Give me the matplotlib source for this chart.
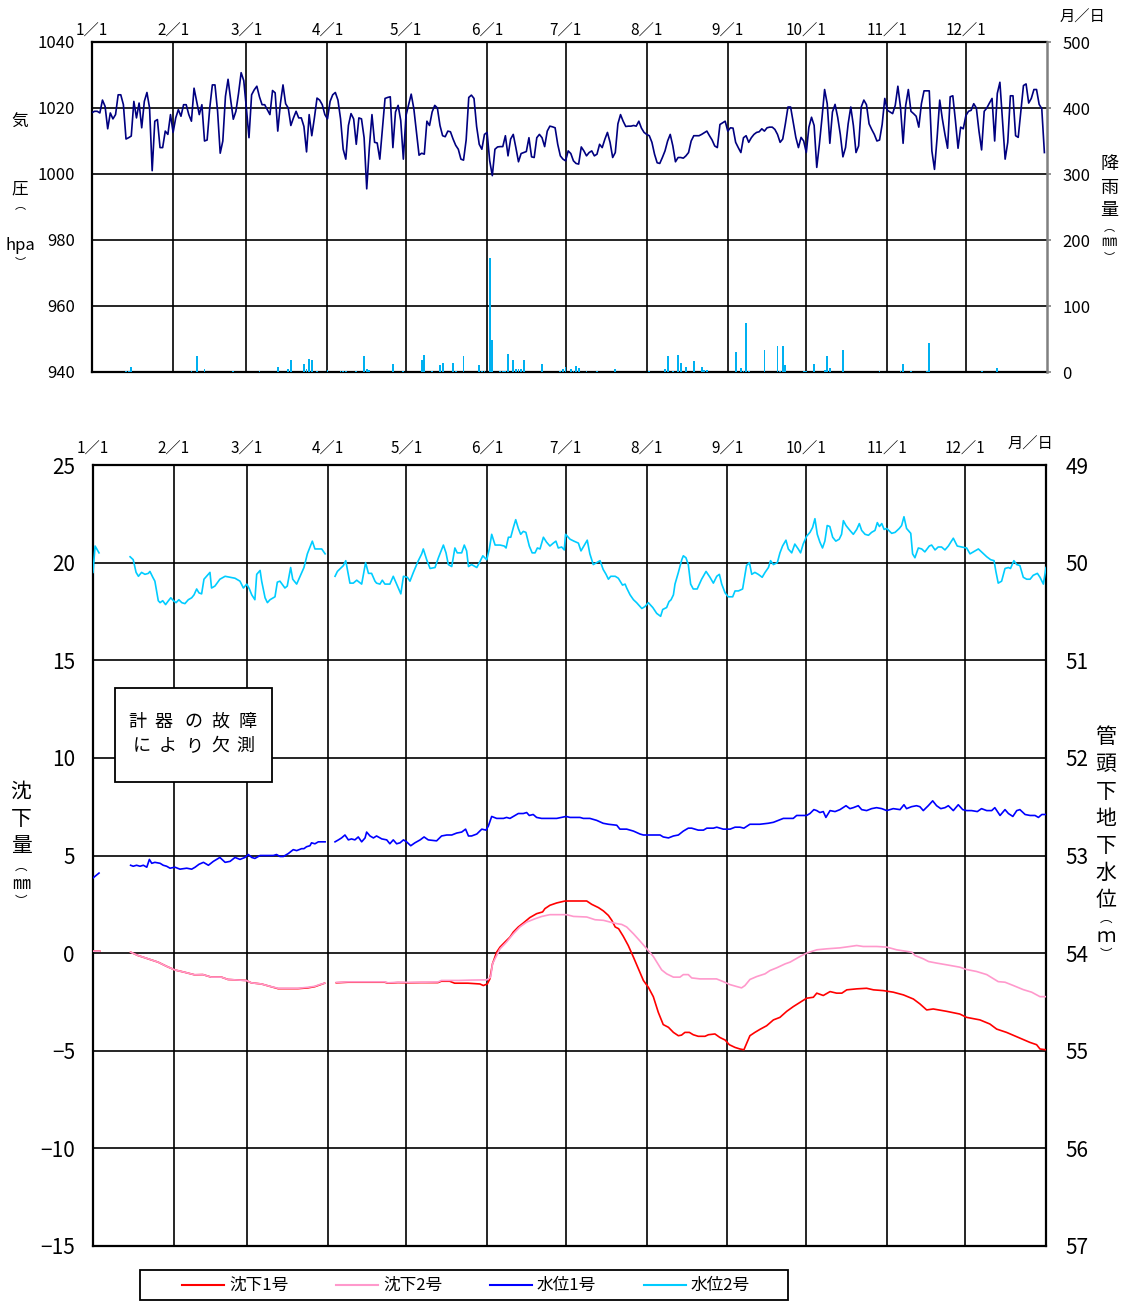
import matplotlib
matplotlib.use('Agg')
import matplotlib.pyplot as plt
from matplotlib.patches import Rectangle
import numpy as np

plt.rcParams['font.family'] = ['Noto Sans CJK JP', 'DejaVu Sans']

nan = np.nan

# Eixo x: dias do ano (1/1 = dia 0)
month_start = [0, 31, 59, 90, 120, 151, 181, 212, 243, 273, 304, 334]
month_labels = ['1／1', '2／1', '3／1', '4／1', '5／1', '6／1', '7／1', '8／1', '9／1', '10／1', '11／1', '12／1']

# Pressão atmosférica diária (hPa)
pressure_hpa = [
    1018.6, 1019.0, 1019.0, 1018.5, 1022.4, 1020.5, 1013.7, 1018.5, 1016.7, 1018.0,
    1024.0, 1024.0, 1021.0, 1010.6, 1011.0, 1011.5, 1022.0, 1017.0, 1021.5, 1014.0,
    1022.0, 1024.7, 1020.0, 1001.0, 1016.0, 1016.5, 1008.0, 1008.0, 1013.0, 1012.0,
    1018.0, 1012.6, 1017.0, 1019.5, 1017.5, 1021.0, 1021.0, 1018.0, 1016.0, 1026.0,
    1022.0, 1018.0, 1021.0, 1010.0, 1010.3, 1020.0, 1027.0, 1027.0, 1019.0, 1006.3,
    1010.0, 1023.5, 1028.7, 1022.5, 1016.6, 1019.0, 1024.4, 1030.7, 1028.3, 1020.0,
    1011.0, 1024.0, 1025.5, 1026.6, 1023.4, 1021.0, 1021.0, 1019.5, 1018.0, 1025.3,
    1024.6, 1013.0, 1021.3, 1027.0, 1021.3, 1020.0, 1014.7, 1017.0, 1019.0, 1017.0,
    1017.0, 1014.4, 1006.7, 1018.0, 1011.6, 1017.0, 1023.0, 1022.4, 1021.0, 1018.0,
    1016.7, 1022.0, 1024.0, 1024.7, 1022.4, 1016.7, 1007.5, 1004.5, 1014.7, 1018.3,
    1016.7, 1009.0, 1017.0, 1016.7, 1011.0, 995.5, 1008.0, 1018.0, 1009.6, 1009.4,
    1004.5, 1013.7, 1022.9, 1023.2, 1023.4, 1008.0, 1018.8, 1020.8, 1016.2, 1004.5,
    1017.7, 1021.0, 1024.2, 1019.8, 1012.6, 1005.7, 1006.3, 1006.0, 1016.0, 1014.7,
    1018.8, 1020.8, 1020.0, 1014.7, 1011.6, 1011.3, 1013.0, 1012.8, 1010.6, 1008.7,
    1007.5, 1004.5, 1004.2, 1010.3, 1023.2, 1023.9, 1022.9, 1014.4, 1009.0, 1007.5,
    1012.0, 1012.6, 1004.0, 999.5, 1007.5, 1008.2, 1008.3, 1008.3, 1011.6, 1005.5,
    1010.6, 1012.0, 1008.0, 1003.7, 1006.2, 1006.5, 1006.8, 1011.0, 1005.2, 1005.0,
    1011.0, 1012.0, 1011.0, 1008.3, 1013.0, 1014.5, 1014.3, 1014.0, 1009.0, 1005.5,
    1004.5, 1004.0, 1007.0, 1006.2, 1004.0, 1003.2, 1003.0, 1008.2, 1007.0, 1005.5,
    1006.5, 1007.0, 1005.5, 1006.0, 1009.0, 1008.0, 1010.5, 1012.6, 1009.6, 1005.0,
    1006.5, 1015.2, 1018.0, 1016.0, 1014.4, 1014.5, 1014.5, 1014.7, 1014.5, 1016.0,
    1013.9, 1012.6, 1012.0, 1011.6, 1009.6, 1006.0, 1003.4, 1003.2, 1005.0, 1007.0,
    1010.0, 1012.0, 1008.5, 1003.7, 1005.0, 1005.0, 1004.8, 1005.5, 1006.5, 1010.0,
    1011.6, 1011.6, 1011.6, 1012.0, 1012.5, 1013.0, 1011.6, 1010.3, 1008.5, 1008.0,
    1015.0, 1015.5, 1016.0, 1013.0, 1014.0, 1013.9, 1009.6, 1008.0, 1006.5, 1011.0,
    1011.6, 1009.6, 1011.0, 1012.0, 1012.6, 1012.8, 1013.7, 1013.0, 1014.0, 1014.2,
    1014.2, 1013.5, 1012.0, 1009.6, 1010.6, 1015.2, 1020.3, 1020.3, 1015.7, 1011.1,
    1008.0, 1011.1, 1010.0, 1006.5, 1014.2, 1017.2, 1014.7, 1002.0, 1009.0, 1017.0,
    1025.6, 1021.3, 1009.3, 1018.8, 1021.1, 1017.2, 1012.0, 1005.2, 1008.0, 1015.2,
    1020.3, 1014.7, 1006.5, 1008.5, 1020.3, 1022.4, 1021.0, 1015.2, 1013.5, 1012.0,
    1010.0, 1010.3, 1015.0, 1022.9, 1019.3, 1018.8, 1018.3, 1020.8, 1026.6, 1020.3,
    1009.3, 1020.8, 1025.6, 1019.0, 1018.3, 1017.5, 1014.2, 1021.3, 1025.2, 1025.2,
    1025.2, 1007.0, 1001.4, 1011.0, 1022.4, 1016.7, 1012.0, 1007.8, 1023.4, 1023.7,
    1016.2, 1007.8, 1014.2, 1013.7, 1017.7, 1019.0, 1019.3, 1021.3, 1020.0, 1013.0,
    1007.3, 1019.0, 1020.0, 1021.5, 1022.9, 1010.0, 1024.4, 1027.8, 1016.2, 1004.5,
    1009.6, 1023.7, 1023.7, 1011.6, 1011.1, 1018.8, 1026.8, 1027.3, 1021.5, 1022.9,
    1025.6, 1025.6, 1021.1, 1019.8, 1006.5,
]
pressure_day = list(range(len(pressure_hpa)))

# Precipitação diária (mm)
rain_day = [13, 14, 15, 38, 40, 43, 54, 64, 71, 75, 76, 81, 82, 83, 84, 86, 90, 95, 96, 97,
            101, 104, 105, 106, 115, 119, 126, 127, 130, 133, 134, 138, 139, 142, 148, 149, 150,
            152, 153, 156, 157, 158, 159, 161, 162, 163, 164, 165, 172, 179, 180, 181, 183, 184,
            185, 186, 189, 193, 200, 213, 219, 220, 222, 224, 225, 227, 230, 233, 234, 235, 246,
            248, 249, 250, 251, 257, 262, 263, 264, 265, 272, 273, 276, 280, 281, 282, 287, 301,
            309, 310, 313, 319, 320, 340, 346]
rain_mm = [2, 2, 7, 1, 25, 5, 1, 1, 7, 4, 18, 12, 4, 20, 18, 2, 3, 2, 2, 2,
           2, 25, 4, 3, 12, 2, 18, 26, 2, 10, 14, 14, 2, 24, 10, 2, 2,
           172, 48, 2, 2, 2, 27, 18, 5, 4, 5, 18, 12, 2, 4, 7, 4, 2,
           9, 6, 1, 1, 5, 1, 4, 24, 2, 26, 14, 8, 17, 8, 3, 3, 31,
           6, 2, 75, 2, 34, 39, 2, 39, 10, 2, 2, 12, 3, 24, 6, 34, 1,
           2, 12, 2, 2, 44, 2, 6]

# Recalque 1 e 2 (mm); nan = falha do instrumento
sub1_day = [0, 2.6, nan,
            14.4, 17.2, 21.1, 24.9, 28.1, 31.3, 35.1, 38.9, 42.1, 45.3, 49.2, 51.7, 54.3, 58.7,
            60.6, 64.5, 67.7, 70.9, 74.7, 78.5, 82.3, 84.9, 86.8, 88.7, nan,
            93.2, 97.7, 101.5, 106.6, 111.7, 113.0, 116.8, 120.6, 125.7, 132.1, 133.4, 136.6,
            138.5, 143.6, 148.2, 149.5, 151.0, 152.0, 153.0, 154.6, 155.9, 157.8, 159.7, 161.0,
            162.9, 164.8, 167.3, 169.9, 172.2, 173.1, 175.0, 177.6, 180.8, 185.2, 189.1, 191.0,
            193.6, 195.5, 197.4, 198.7, 200.0, 201.3, 203.1, 205.0, 207.0, 208.9, 210.8, 212.7,
            214.6, 216.5, 218.4, 220.4, 222.3, 224.2, 225.4, 226.7, 228.4, 229.9, 231.8, 234.4,
            235.7, 238.2, 240.1, 242.1, 243.7, 245.9, 247.8, 249.3, 251.6, 253.5, 255.5, 258.0,
            260.6, 263.1, 265.7, 268.2, 270.8, 273.3, 275.9, 277.2, 279.7, 282.3, 284.8, 286.8,
            288.7, 292.5, 296.3, 298.9, 302.7, 306.5, 310.4, 314.2, 316.7, 319.3, 321.8, 326.9,
            332.0, 334.6, 339.7, 343.5, 346.1, 349.9, 355.0, 358.8, 361.4, 362.7, 365.0]
sub1_mm = [0.1, 0.1, nan,
           0.05, -0.12, -0.29, -0.46, -0.67, -0.86, -0.98, -1.11, -1.10, -1.23, -1.23, -1.35, -1.37, -1.40,
           -1.52, -1.58, -1.70, -1.82, -1.82, -1.82, -1.78, -1.72, -1.63, -1.54, nan,
           -1.52, -1.49, -1.49, -1.49, -1.49, -1.54, -1.51, -1.52, -1.51, -1.51, -1.44, -1.44,
           -1.54, -1.54, -1.58, -1.66, -1.58, -1.32, -0.55, 0.05, 0.31, 0.57, 0.82, 1.08,
           1.34, 1.54, 1.82, 2.02, 2.11, 2.28, 2.45, 2.57, 2.67, 2.67, 2.67, 2.50,
           2.33, 2.16, 1.93, 1.68, 1.34, 1.25, 0.86, 0.39, -0.21, -0.80, -1.40, -1.75,
           -2.23, -3.03, -3.66, -3.80, -4.06, -4.23, -4.20, -4.06, -4.06, -4.18, -4.26, -4.26,
           -4.18, -4.14, -4.32, -4.45, -4.69, -4.83, -4.91, -4.95, -4.23, -4.06, -3.90, -3.72,
           -3.42, -3.29, -2.98, -2.74, -2.52, -2.31, -2.26, -2.05, -2.17, -1.97, -2.05, -2.05,
           -1.88, -1.83, -1.80, -1.88, -1.92, -2.00, -2.14, -2.35, -2.60, -2.91, -2.86, -2.98,
           -3.12, -3.29, -3.42, -3.63, -3.89, -4.06, -4.35, -4.57, -4.69, -4.91, -4.95]

sub2_day = [0, 2.6, nan,
            14.4, 17.2, 21.1, 24.9, 28.1, 31.3, 35.1, 38.9, 42.1, 45.3, 49.2, 51.7, 54.3, 58.7,
            60.6, 64.5, 67.7, 70.9, 74.7, 78.5, 82.3, 84.9, 86.8, 88.7, nan,
            93.2, 97.7, 101.5, 106.6, 111.7, 113.0, 116.8, 120.6, 125.7, 132.1, 133.4, 140.0,
            145.0, 150.8, 152.3, 153.0, 154.6, 155.9, 158.4, 161.0, 163.5, 166.1, 169.3, 171.9,
            175.0, 181.4, 184.0, 189.1, 192.3, 195.5, 198.1, 200.6, 202.5, 204.4, 207.0, 209.5,
            212.1, 214.6, 216.5, 217.8, 219.7, 222.3, 224.8, 226.1, 228.0, 229.3, 232.5, 238.8,
            241.4, 243.9, 246.5, 248.4, 249.7, 251.6, 254.2, 257.4, 259.3, 261.9, 265.1, 267.0,
            270.8, 273.3, 277.2, 281.0, 286.1, 289.9, 292.5, 295.0, 300.2, 304.0, 307.8, 313.6,
            314.8, 318.0, 320.0, 323.1, 327.0, 332.0, 334.6, 338.4, 342.3, 346.7, 349.3, 352.5,
            356.3, 359.5, 362.7, 365.0]
sub2_mm = [0.1, 0.1, nan,
           0.05, -0.12, -0.29, -0.46, -0.67, -0.86, -0.98, -1.11, -1.10, -1.23, -1.23, -1.35, -1.37, -1.40,
           -1.52, -1.58, -1.70, -1.80, -1.80, -1.80, -1.75, -1.70, -1.61, -1.54, nan,
           -1.50, -1.47, -1.47, -1.47, -1.47, -1.52, -1.49, -1.50, -1.49, -1.48, -1.40, -1.40,
           -1.38, -1.37, -1.23, -0.55, -0.12, 0.22, 0.57, 0.99, 1.34, 1.59, 1.76, 1.88,
           1.97, 1.97, 1.88, 1.85, 1.71, 1.68, 1.59, 1.51, 1.47, 1.34, 0.99, 0.62,
           0.22, -0.17, -0.58, -0.86, -1.06, -1.23, -1.23, -1.10, -1.10, -1.27, -1.32, -1.32,
           -1.46, -1.61, -1.71, -1.78, -1.66, -1.35, -1.20, -1.06, -0.89, -0.75, -0.55, -0.46,
           -0.17, 0.00, 0.17, 0.22, 0.27, 0.34, 0.39, 0.34, 0.34, 0.31, 0.17, 0.05,
           -0.12, -0.29, -0.43, -0.51, -0.60, -0.72, -0.84, -0.94, -1.10, -1.46, -1.49, -1.66,
           -1.87, -2.00, -2.23, -2.23]

# Nível d'água 1 e 2 (m abaixo da boca do tubo)
wl1_day = [0, 2.3, nan,
           14.4, 15.4, 16.7, 18.0, 19.3, 20.6, 21.6, 22.5, 23.7, 25.7, 26.9, 28.2, 29.5, 31.4,
           33.3, 35.9, 37.8, 39.1, 40.6, 42.3, 44.2, 46.1, 48.6, 50.6, 52.5, 54.4, 56.3, 58.2,
           59.5, 60.8, 62.0, 64.0, 66.5, 69.1, 70.3, 71.6, 72.9, 74.8, 76.7, 78.0, 79.9, 80.8,
           81.8, 83.1, 83.7, 85.0, 86.3, 87.6, 88.9, nan,
           92.7, 94.0, 95.2, 96.5, 97.8, 99.0, 100.3, 101.6, 102.9, 104.2, 104.8, 106.1, 107.4,
           108.6, 110.6, 112.5, 113.7, 115.0, 116.3, 117.6, 118.9, 120.1, 121.7, 123.3, 125.3,
           126.8, 128.4, 131.6, 133.5, 135.5, 137.4, 139.3, 141.2, 142.7, 143.8, 145.0, 147.0,
           148.9, 150.5, 151.4, 152.7, 154.6, 157.2, 158.4, 159.7, 161.0, 162.9, 164.8, 166.1,
           167.1, 168.6, 169.9, 171.8, 173.7, 177.6, 179.5, 181.2, 182.7, 186.5, 187.8, 190.3,
           192.9, 195.4, 197.4, 200.6, 201.8, 204.4, 207.0, 209.5, 210.8, 214.6, 217.2, 218.4,
           220.4, 222.3, 224.2, 226.1, 228.0, 229.3, 231.8, 233.8, 235.1, 237.6, 238.9, 240.1,
           241.4, 244.0, 245.9, 247.8, 249.3, 251.6, 255.4, 258.6, 260.6, 264.4, 268.2, 269.5,
           273.3, 274.6, 276.1, 277.2, 278.4, 279.7, 280.7, 282.3, 284.2, 286.1, 288.4, 289.9,
           291.2, 293.1, 294.4, 296.3, 298.2, 300.1, 302.1, 304.0, 306.5, 309.1, 310.6, 311.6,
           313.5, 315.4, 316.7, 318.0, 319.9, 321.6, 323.1, 324.7, 326.3, 327.6, 329.5, 331.4,
           333.1, 334.6, 336.5, 338.7, 340.3, 342.3, 344.2, 345.4, 347.4, 349.3, 350.6, 352.3,
           353.8, 355.0, 357.0, 358.9, 360.8, 362.1, 363.4, 365.0]
wl1_m = [53.23, 53.18, nan,
         53.10, 53.11, 53.10, 53.11, 53.10, 53.12, 53.04, 53.08, 53.07, 53.08, 53.10, 53.11, 53.13, 53.12,
         53.14, 53.13, 53.14, 53.12, 53.09, 53.07, 53.10, 53.06, 53.02, 53.07, 53.06, 53.02, 53.04, 53.02,
         52.99, 53.02, 53.03, 53.00, 53.00, 53.00, 52.99, 53.01, 53.01, 52.98, 52.94, 52.95, 52.93, 52.93,
         52.91, 52.90, 52.87, 52.88, 52.86, 52.86, 52.86, nan,
         52.86, 52.84, 52.82, 52.79, 52.84, 52.83, 52.84, 52.81, 52.86, 52.82, 52.76, 52.80, 52.82,
         52.80, 52.83, 52.84, 52.88, 52.84, 52.88, 52.87, 52.84, 52.86, 52.90, 52.87, 52.84,
         52.81, 52.84, 52.85, 52.80, 52.79, 52.79, 52.77, 52.76, 52.73, 52.80, 52.80, 52.78,
         52.73, 52.74, 52.70, 52.60, 52.62, 52.62, 52.61, 52.62, 52.60, 52.57, 52.57, 52.56,
         52.59, 52.58, 52.61, 52.62, 52.62, 52.62, 52.61, 52.60, 52.61, 52.61, 52.62, 52.62,
         52.64, 52.67, 52.68, 52.69, 52.73, 52.73, 52.75, 52.78, 52.79, 52.79, 52.79, 52.81,
         52.82, 52.80, 52.79, 52.75, 52.72, 52.72, 52.74, 52.74, 52.72, 52.72, 52.71, 52.72,
         52.73, 52.73, 52.71, 52.71, 52.72, 52.68, 52.68, 52.67, 52.66, 52.62, 52.62, 52.59,
         52.59, 52.57, 52.53, 52.54, 52.56, 52.55, 52.61, 52.54, 52.55, 52.53, 52.49, 52.52,
         52.51, 52.49, 52.53, 52.54, 52.52, 52.51, 52.52, 52.54, 52.52, 52.53, 52.48, 52.52,
         52.50, 52.49, 52.50, 52.54, 52.49, 52.44, 52.49, 52.52, 52.51, 52.49, 52.54, 52.48,
         52.53, 52.54, 52.54, 52.55, 52.52, 52.54, 52.54, 52.51, 52.59, 52.53, 52.57, 52.60,
         52.54, 52.53, 52.58, 52.59, 52.59, 52.61, 52.58, 52.58]

wl2_day = [0, 0.8, 2.3, nan,
           14.2, 15.4, 16.5, 17.4, 18.6, 19.9, 21.2, 21.8, 22.9, 23.7, 25.0, 25.7, 26.7, 27.8,
           28.9, 29.8, 30.8, 31.8, 32.9, 34.0, 35.2, 36.5, 37.8, 38.7, 39.7, 40.6, 41.6, 42.5,
           43.5, 44.8, 45.4, 46.7, 48.6, 50.6, 52.5, 54.4, 56.3, 57.6, 58.9, 59.9, 60.8, 62.0,
           62.7, 64.0, 64.6, 65.9, 66.8, 67.8, 69.7, 70.6, 71.6, 73.5, 74.4, 75.7, 76.5, 78.0,
           79.3, 80.8, 82.1, 84.0, 85.0, 87.6, 88.9, nan,
           92.7, 93.6, 95.9, 96.8, 98.4, 99.7, 101.0, 102.9, 104.4, 105.5, 106.7, 108.0, 108.6,
           109.9, 110.8, 111.8, 113.7, 115.0, 116.3, 117.9, 118.9, 120.4, 121.4, 122.7, 124.6,
           125.9, 126.5, 127.8, 129.1, 131.0, 132.3, 134.2, 135.2, 136.1, 137.4, 138.6, 139.5,
           141.2, 142.2, 143.1, 143.8, 145.0, 147.0, 148.0, 149.3, 150.8, 151.8, 152.7, 154.0,
           155.9, 157.5, 158.2, 159.1, 160.0, 161.0, 161.9, 162.9, 163.8, 164.8, 165.8, 167.1,
           168.2, 169.3, 170.2, 171.2, 172.5, 173.7, 175.0, 176.3, 177.3, 178.2, 179.5, 180.5,
           181.0, 182.7, 184.2, 185.9, 186.9, 188.2, 189.3, 190.3, 191.6, 192.9, 194.2, 195.4,
           196.5, 197.4, 198.3, 200.0, 201.2, 202.8, 203.8, 204.4, 205.7, 207.0, 208.2, 210.2,
           211.4, 212.7, 214.4, 215.9, 217.4, 218.2, 219.7, 220.6, 221.4, 222.3, 222.9, 224.2,
           225.5, 226.1, 227.1, 228.0, 228.9, 229.9, 231.4, 233.1, 234.8, 236.3, 237.6, 238.9,
           239.9, 240.8, 242.1, 243.3, 245.0, 245.9, 247.2, 248.8, 250.3, 251.4, 252.3, 253.5,
           254.8, 256.3, 257.4, 258.7, 259.5, 260.6, 262.1, 263.1, 264.1, 265.4, 266.3, 267.6,
           268.8, 270.1, 271.0, 272.0, 273.3, 274.6, 275.6, 276.5, 277.4, 278.4, 279.4, 280.3,
           281.2, 282.2, 283.3, 284.5, 285.8, 286.7, 287.4, 288.4, 289.9, 291.2, 292.5, 293.5,
           294.4, 295.7, 297.0, 298.2, 299.5, 300.4, 301.2, 302.1, 303.0, 304.0, 305.9, 307.2,
           308.8, 309.7, 310.6, 311.6, 313.2, 313.9, 314.8, 316.1, 317.4, 318.6, 320.3, 321.2,
           322.5, 323.7, 325.0, 326.3, 327.6, 329.5, 331.0, 332.7, 334.6, 335.9, 337.2, 339.1,
           340.7, 342.3, 343.8, 345.1, 345.8, 346.7, 348.0, 349.3, 350.6, 351.4, 352.7, 353.8,
           355.0, 356.3, 357.6, 358.9, 360.1, 361.7, 362.7, 364.0, 365.0]
wl2_m = [50.10, 49.83, 49.90, nan,
         49.94, 49.97, 50.10, 50.14, 50.10, 50.12, 50.11, 50.09, 50.15, 50.19, 50.39, 50.41, 50.39, 50.43,
         50.39, 50.36, 50.39, 50.41, 50.38, 50.41, 50.42, 50.38, 50.36, 50.33, 50.27, 50.31, 50.32, 50.17,
         50.14, 50.10, 50.26, 50.24, 50.17, 50.14, 50.15, 50.16, 50.19, 50.26, 50.22, 50.27, 50.33, 50.38,
         50.12, 50.08, 50.19, 50.36, 50.41, 50.38, 50.35, 50.20, 50.19, 50.26, 50.24, 50.05, 50.17, 50.22,
         50.14, 50.05, 49.91, 49.78, 49.86, 49.86, 49.91, nan,
         50.14, 50.09, 50.03, 49.98, 50.21, 50.21, 50.18, 50.22, 50.00, 50.11, 50.11, 50.19, 50.21,
         50.22, 50.18, 50.22, 50.22, 50.14, 50.22, 50.32, 50.14, 50.15, 50.19, 50.10, 49.98,
         49.91, 49.86, 49.97, 50.06, 50.05, 49.95, 49.82, 49.90, 50.02, 50.04, 49.85, 49.90,
         49.90, 49.82, 49.88, 50.04, 50.02, 50.05, 50.00, 49.93, 49.97, 49.86, 49.71, 49.82,
         49.82, 49.83, 49.85, 49.74, 49.74, 49.64, 49.56, 49.65, 49.71, 49.68, 49.69, 49.83,
         49.90, 49.90, 49.85, 49.86, 49.74, 49.79, 49.83, 49.80, 49.78, 49.85, 49.84, 49.87,
         49.71, 49.76, 49.78, 49.80, 49.88, 49.82, 49.77, 49.91, 50.02, 50.00, 49.98, 50.07,
         50.12, 50.17, 50.14, 50.14, 50.16, 50.23, 50.22, 50.26, 50.33, 50.38, 50.41, 50.47,
         50.45, 50.41, 50.46, 50.52, 50.55, 50.48, 50.46, 50.40, 50.38, 50.33, 50.22, 50.10,
         49.97, 49.93, 49.95, 50.02, 50.22, 50.27, 50.27, 50.17, 50.09, 50.15, 50.21, 50.14,
         50.12, 50.22, 50.31, 50.35, 50.35, 50.29, 50.29, 50.27, 50.03, 50.00, 50.12, 50.10,
         50.12, 50.15, 50.10, 50.05, 49.98, 50.02, 50.00, 49.90, 49.83, 49.77, 49.86, 49.90,
         49.81, 49.86, 49.90, 49.81, 49.73, 49.69, 49.64, 49.55, 49.71, 49.79, 49.85, 49.78,
         49.62, 49.63, 49.74, 49.78, 49.76, 49.71, 49.57, 49.62, 49.67, 49.71, 49.66, 49.60,
         49.67, 49.71, 49.72, 49.69, 49.67, 49.59, 49.63, 49.60, 49.66, 49.65, 49.70, 49.69,
         49.65, 49.62, 49.53, 49.65, 49.70, 49.91, 49.95, 49.85, 49.86, 49.89, 49.83, 49.82,
         49.87, 49.84, 49.84, 49.87, 49.83, 49.75, 49.83, 49.84, 49.85, 49.91, 49.89, 49.86,
         49.90, 49.94, 49.97, 49.98, 50.09, 50.21, 50.19, 50.06, 50.05, 50.06, 49.98, 50.02,
         50.03, 50.15, 50.17, 50.17, 50.13, 50.11, 50.15, 50.22, 50.05]

# Cores
c_pressao = '#000080'
c_chuva = '#00B0F0'
c_rec1 = '#FF0000'
c_rec2 = '#FF99CC'
c_nivel1 = '#0000FF'
c_nivel2 = '#00CCFF'

W, H = 1125, 1301
fig = plt.figure(figsize=(W / 100, H / 100), dpi=100)


def frame(px_left, px_top, px_right, px_bottom):
    return [px_left / W, 1 - px_bottom / H, (px_right - px_left) / W, (px_bottom - px_top) / H]


def style_common(ax, pad_top):
    ax.set_xlim(0, 365)
    ax.set_xticks(month_start)
    ax.set_xticklabels(month_labels, fontsize=11)
    ax.xaxis.tick_top()
    ax.tick_params(axis='x', length=0, pad=pad_top)
    ax.grid(True, color='black', linewidth=1.2)
    ax.set_axisbelow(True)
    for s in ax.spines.values():
        s.set_linewidth(1.6)


# ---------------- Painel superior: pressão e chuva ----------------
ax1 = fig.add_axes(frame(92, 42, 1047, 372))
style_common(ax1, 2)
ax1.set_ylim(940, 1040)
ax1.set_yticks(range(940, 1041, 20))
ax1.tick_params(axis='y', length=0, pad=12, labelsize=12)
ax1.spines['right'].set_visible(False)
ax1.plot(pressure_day, pressure_hpa, color=c_pressao, linewidth=1.2, zorder=3)

ax2 = ax1.twinx()
ax2.set_ylim(0, 500)
ax2.set_yticks(range(0, 501, 100))
ax2.tick_params(axis='y', length=3, width=1.2, color='#808080', pad=8, labelsize=12)
ax2.spines['right'].set_color('#808080')
ax2.spines['right'].set_linewidth(1.8)
for s in ['left', 'top', 'bottom']:
    ax2.spines[s].set_visible(False)
ax2.bar(rain_day, rain_mm, width=0.7, color=c_chuva, zorder=2)

# ---------------- Painel inferior: recalque e nível d'água ----------------
ax3 = fig.add_axes(frame(93, 465, 1046, 1246))
style_common(ax3, 5)
ax3.set_ylim(-15, 25)
ax3.set_yticks(range(-15, 26, 5))
ax3.tick_params(axis='y', length=0, pad=13, labelsize=15)
ax3.plot(sub1_day, sub1_mm, color=c_rec1, linewidth=1.2, zorder=3)
ax3.plot(sub2_day, sub2_mm, color=c_rec2, linewidth=1.2, zorder=3)

ax4 = ax3.twinx()
ax4.set_ylim(57, 49)
ax4.set_yticks(range(49, 58))
ax4.tick_params(axis='y', length=0, pad=14, labelsize=15)
for s in ax4.spines.values():
    s.set_visible(False)
ax4.plot(wl1_day, wl1_m, color=c_nivel1, linewidth=1.2, zorder=3)
ax4.plot(wl2_day, wl2_m, color=c_nivel2, linewidth=1.2, zorder=3)

# ---------------- Textos e caixas em coordenadas de pixel ----------------
ov = fig.add_axes([0, 0, 1, 1], zorder=10)
ov.set_xlim(0, W)
ov.set_ylim(H, 0)
ov.axis('off')
ov.patch.set_visible(False)


def vlabel(x, items):
    # rótulo de eixo escrito na vertical, um caractere por linha
    for y, ch, size in items:
        ov.text(x, y, ch, ha='center', va='center', fontsize=size, color='black')


vlabel(20, [(122, '気', 12), (189, '圧', 12), (205, '︵', 8), (246, 'hpa', 12), (262, '︶', 8)])
vlabel(1109, [(164, '降', 13), (188, '雨', 13), (210, '量', 13), (227, '︵', 8),
              (242, '㎜', 11), (257, '︶', 8)])
vlabel(21, [(792, '沈', 15), (819, '下', 15), (846, '量', 15), (866, '︵', 9),
            (884, '㎜', 13), (902, '︶', 9)])
vlabel(1106, [(737, '管', 15), (764, '頭', 15), (792, '下', 15), (819, '地', 15), (846, '下', 15),
              (873, '水', 15), (900, '位', 15), (918, '︵', 9), (936, 'ｍ', 14), (955, '︶', 9)])

ov.text(1082, 17, '月／日', ha='center', va='center', fontsize=11)
ov.text(1030, 444, '月／日', ha='center', va='center', fontsize=11)

# Caixa "falha do instrumento"
ov.add_patch(Rectangle((115, 688), 157, 94, facecolor='white', edgecolor='black', linewidth=1.3))
for x, ch in zip([137, 164, 193, 220, 248], '計器の故障'):
    ov.text(x, 722, ch, ha='center', va='center', fontsize=13)
for x, ch in zip([142, 168, 194, 220, 245], 'により欠測'):
    ov.text(x, 746, ch, ha='center', va='center', fontsize=13)

# Legenda
ov.add_patch(Rectangle((140, 1270), 648, 30, facecolor='white', edgecolor='black', linewidth=1.3))
leg = [(182, c_rec1, '沈下1号'), (336, c_rec2, '沈下2号'), (490, c_nivel1, '水位1号'), (644, c_nivel2, '水位2号')]
for x0, col, txt in leg:
    ov.plot([x0, x0 + 42], [1285, 1285], color=col, linewidth=1.5)
    ov.text(x0 + 47, 1285, txt, ha='left', va='center', fontsize=12)

fig.savefig('out.png', dpi=100)
